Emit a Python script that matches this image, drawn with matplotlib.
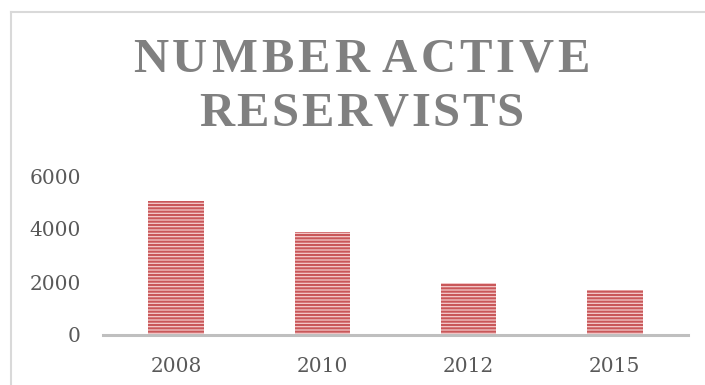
import matplotlib
matplotlib.use("Agg")
import matplotlib.pyplot as plt
from matplotlib.lines import Line2D

categories = ["2008", "2010", "2012", "2015"]
values = [5050, 3870, 1970, 1700]
yticks = [0, 2000, 4000, 6000]
title_lines = ["NUMBER ACTIVE", "RESERVISTS"]

plt.rcParams['hatch.linewidth'] = 1.5
plt.rcParams['font.family'] = ['DejaVu Serif', 'Liberation Serif']

W, H = 705, 385
fig = plt.figure(figsize=(W / 100, H / 100), dpi=100)
fig.patch.set_facecolor("white")

def fx(px):
    return px / W

def fy(py):
    return 1 - py / H

# outer chart border (left and top visible)
fig.add_artist(Line2D([fx(10.5), fx(10.5)], [fy(11.5), 0], transform=fig.transFigure,
                      color="#d9d9d9", lw=1.5))
fig.add_artist(Line2D([fx(10.5), 1], [fy(11.5), fy(11.5)], transform=fig.transFigure,
                      color="#d9d9d9", lw=1.5))

left, right = 103, 688
top, bottom = 176, 335
ax = fig.add_axes([fx(left), fy(bottom), fx(right - left), (bottom - top) / H])

x = list(range(len(categories)))
ax.bar(x, values, width=0.38, color="#f4cbcb", edgecolor="#c95759", hatch="-----",
       linewidth=0, zorder=2)

ax.set_xlim(-0.5, len(categories) - 0.5)
ax.set_ylim(0, 6000)
ax.set_yticks(yticks)
ax.set_yticklabels([str(v) for v in yticks])
ax.set_xticks(x)
ax.set_xticklabels(categories)

for s in ["top", "right", "left"]:
    ax.spines[s].set_visible(False)
ax.spines["bottom"].set_color("#bfbfbf")
ax.spines["bottom"].set_linewidth(2.2)
ax.spines["bottom"].set_zorder(3)
ax.tick_params(axis="both", length=0, labelsize=14.5, colors="#595959")
ax.tick_params(axis="y", pad=16)
ax.tick_params(axis="x", pad=16)

# title with letter spacing
renderer = fig.canvas.get_renderer()

def tracked_text(s, x0, x1, yc, size, space_w=4):
    arts = []
    widths = []
    for ch in s:
        if ch == " ":
            arts.append(None)
            widths.append(space_w)
            continue
        t = fig.text(0, fy(yc), ch, ha="left", va="center", fontsize=size,
                     fontweight="bold", color="#808080", family="Liberation Serif")
        bb = t.get_window_extent(renderer)
        widths.append(bb.width)
        arts.append(t)
    track = ((x1 - x0) - sum(widths)) / (len(s) - 1)
    cur = x0
    for t, w in zip(arts, widths):
        if t is not None:
            t.set_x(fx(cur))
        cur += w + track

tracked_text(title_lines[0], 133, 590, 60, 35)
tracked_text(title_lines[1], 199, 524, 114, 35)

fig.savefig("out.png", dpi=100)
